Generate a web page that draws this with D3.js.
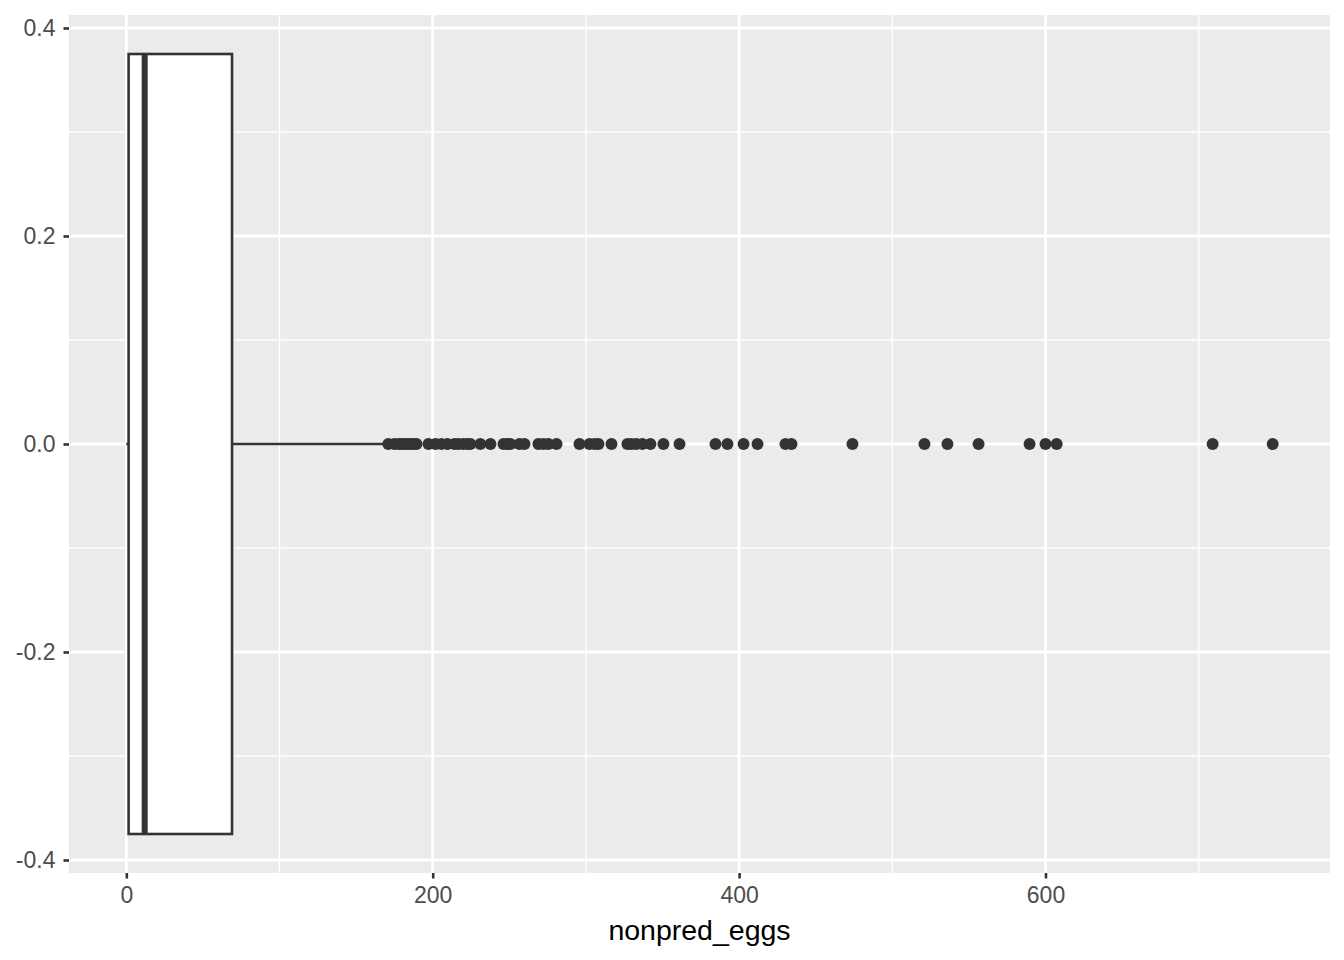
<!DOCTYPE html>
<html>
<head>
<meta charset="utf-8">
<script src="https://cdn.jsdelivr.net/npm/d3@7"></script>
<style>
  body { margin: 0; background: #fff; }
  svg { display: block; font-family: "Liberation Sans", Arial, sans-serif; }
</style>
</head>
<body>
<svg id="chart" width="1344" height="960"></svg>
<script>
// Box statistics
const boxStats = { lowerWhisker: 0, q1: 1.5, median: 12, q3: 69, upperWhisker: 170 };
const boxHalfWidth = 0.375;

// Outlier values of nonpred_eggs
const outliers = [171, 175, 177.6, 179.6, 181.5, 183.5, 185.4, 187.4, 189.4,
  197.2, 201.8, 205.7, 209.6, 214.2, 216.8, 220, 222.7, 224.6, 231.1, 237.7,
  246.2, 248.8, 250.7, 256.6, 259.9, 269, 272.3, 275.5, 280.8, 295.8, 302.3,
  305.6, 308.2, 316.7, 327.1, 329.8, 333, 336.9, 342.1, 350.6, 361.1, 384.6,
  392.4, 402.9, 412, 430.3, 434.2, 474, 521, 536, 556.3, 589.6, 600, 607.3,
  709.1, 748.3];

const xTicks = [0, 200, 400, 600];
const xMinor = [100, 300, 500, 700];
const yTicks = [-0.4, -0.2, 0.0, 0.2, 0.4];
const yMinor = [-0.3, -0.1, 0.1, 0.3];
const xTitle = "nonpred_eggs";

const svg = d3.select("#chart");
const panel = { left: 69, right: 1330, top: 15, bottom: 873 };

const xMax = d3.max(outliers);
const xPad = (xMax - 0) * 0.05;
const x = d3.scaleLinear().domain([0 - xPad, xMax + xPad]).range([panel.left, panel.right]);
const yPad = 2 * boxHalfWidth * 0.05;
const y = d3.scaleLinear().domain([-boxHalfWidth - yPad, boxHalfWidth + yPad]).range([panel.bottom, panel.top]);

// panel background
svg.append("rect")
  .attr("x", panel.left).attr("y", panel.top)
  .attr("width", panel.right - panel.left).attr("height", panel.bottom - panel.top)
  .attr("fill", "#ebebeb");

const grid = svg.append("g");
// minor grid
grid.selectAll(".xminor").data(xMinor).join("line")
  .attr("x1", d => x(d)).attr("x2", d => x(d))
  .attr("y1", panel.top).attr("y2", panel.bottom)
  .attr("stroke", "#fff").attr("stroke-width", 1.4);
grid.selectAll(".yminor").data(yMinor).join("line")
  .attr("y1", d => y(d)).attr("y2", d => y(d))
  .attr("x1", panel.left).attr("x2", panel.right)
  .attr("stroke", "#fff").attr("stroke-width", 1.4);
// major grid
grid.selectAll(".xmajor").data(xTicks).join("line")
  .attr("x1", d => x(d)).attr("x2", d => x(d))
  .attr("y1", panel.top).attr("y2", panel.bottom)
  .attr("stroke", "#fff").attr("stroke-width", 2.8);
grid.selectAll(".ymajor").data(yTicks).join("line")
  .attr("y1", d => y(d)).attr("y2", d => y(d))
  .attr("x1", panel.left).attr("x2", panel.right)
  .attr("stroke", "#fff").attr("stroke-width", 2.8);

const dark = "#333333";
const boxG = svg.append("g");
// whiskers
boxG.append("line")
  .attr("x1", x(boxStats.lowerWhisker)).attr("x2", x(boxStats.q1))
  .attr("y1", y(0)).attr("y2", y(0))
  .attr("stroke", dark).attr("stroke-width", 2.6);
boxG.append("line")
  .attr("x1", x(boxStats.q3)).attr("x2", x(boxStats.upperWhisker))
  .attr("y1", y(0)).attr("y2", y(0))
  .attr("stroke", dark).attr("stroke-width", 2.6);
// box
boxG.append("rect")
  .attr("x", x(boxStats.q1)).attr("y", y(boxHalfWidth))
  .attr("width", x(boxStats.q3) - x(boxStats.q1))
  .attr("height", y(-boxHalfWidth) - y(boxHalfWidth))
  .attr("fill", "#fff").attr("stroke", dark).attr("stroke-width", 2.6);
// median
boxG.append("line")
  .attr("x1", x(boxStats.median)).attr("x2", x(boxStats.median))
  .attr("y1", y(boxHalfWidth)).attr("y2", y(-boxHalfWidth))
  .attr("stroke", dark).attr("stroke-width", 6);
// outliers
boxG.selectAll("circle").data(outliers).join("circle")
  .attr("cx", d => x(d)).attr("cy", y(0)).attr("r", 6)
  .attr("fill", dark);

// axes
const fmtY = d => d3.format(".1f")(d).replace("\u2212", "-");
const xAxis = svg.append("g")
  .attr("transform", `translate(0,${panel.bottom})`)
  .call(d3.axisBottom(x).tickValues(xTicks).tickFormat(d3.format("d")).tickSize(5.5).tickPadding(8));
const yAxis = svg.append("g")
  .attr("transform", `translate(${panel.left},0)`)
  .call(d3.axisLeft(y).tickValues(yTicks).tickFormat(fmtY).tickSize(5.5).tickPadding(8));
[xAxis, yAxis].forEach(a => {
  a.attr("font-size", null).attr("font-family", null);
  a.select(".domain").remove();
  a.selectAll(".tick line").attr("stroke", dark).attr("stroke-width", 2.6);
  a.selectAll(".tick text").attr("fill", "#4d4d4d")
    .style("font-size", "23px")
    .style("font-family", "'Liberation Sans', Arial, sans-serif");
});

svg.append("text")
  .attr("x", (panel.left + panel.right) / 2).attr("y", 940)
  .attr("text-anchor", "middle")
  .style("font-size", "28.5px").attr("fill", "#000")
  .style("font-family", "'Liberation Sans', Arial, sans-serif")
  .text(xTitle);
</script>
</body>
</html>
